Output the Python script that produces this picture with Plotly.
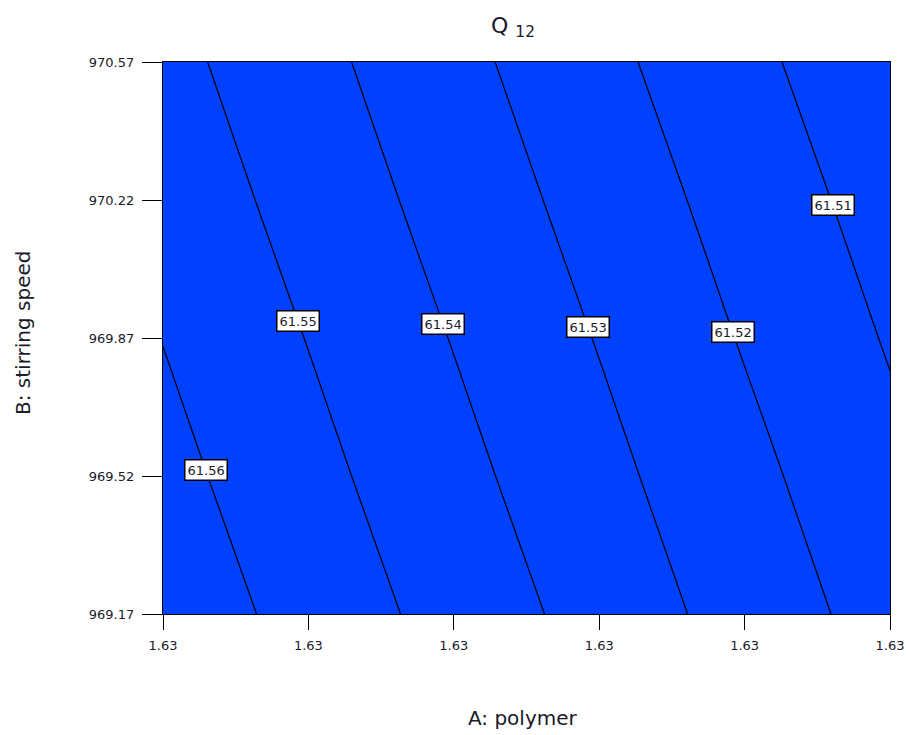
import numpy as np
import plotly.graph_objects as go

# A: polymer (grid positions, all display as 1.63)
A_vals = [1.6275, 1.6285, 1.6295, 1.6305, 1.6315, 1.6325]
A_ticktext = ["1.63", "1.63", "1.63", "1.63", "1.63", "1.63"]
# B: stirring speed
B_vals = [969.17, 969.52, 969.87, 970.22, 970.57]
B_ticktext = ["969.17", "969.52", "969.87", "970.22", "970.57"]

# Q12 response estimated at grid nodes (rows = B, cols = A)
Q12 = [
    [61.5665, 61.5564, 61.5463, 61.5362, 61.5260, 61.5159],
    [61.5631, 61.5530, 61.5429, 61.5328, 61.5227, 61.5126],
    [61.5598, 61.5497, 61.5396, 61.5295, 61.5193, 61.5092],
    [61.5564, 61.5463, 61.5362, 61.5261, 61.5160, 61.5059],
    [61.5531, 61.5430, 61.5329, 61.5227, 61.5126, 61.5025],
]

# contour levels and where along B each label sits
levels = [61.56, 61.55, 61.54, 61.53, 61.52, 61.51]
label_B = [969.535, 969.913, 969.906, 969.898, 969.885, 970.207]

blue = "#0040FF"
font_family = "DejaVu Sans, Verdana, sans-serif"
text_color = "#1a1a2a"

fig = go.Figure()
fig.add_trace(go.Contour(
    x=A_vals, y=B_vals, z=Q12,
    contours=dict(start=61.50, end=61.57, size=0.01, coloring="fill", showlabels=False),
    colorscale=[[0, blue], [1, blue]],
    line=dict(color="black", width=1.2),
    showscale=False,
    hoverinfo="skip",
))

Z = np.array(Q12)
Bv = np.array(B_vals)
Av = np.array(A_vals)
for lev, by in zip(levels, label_B):
    row = np.array([np.interp(by, Bv, Z[:, j]) for j in range(Z.shape[1])])
    ax = float(np.interp(lev, row[::-1], Av[::-1]))
    fig.add_annotation(
        x=ax, y=by, xref="x", yref="y",
        text=f"{lev:.2f}", showarrow=False,
        font=dict(family=font_family, size=13, color=text_color),
        bgcolor="white", bordercolor="black", borderwidth=1.5, borderpad=2,
    )

fig.add_annotation(
    x=(523 - 163) / 727, y=(614 - 718) / 552, xref="paper", yref="paper",
    xanchor="center", yanchor="middle",
    text="A: polymer", showarrow=False,
    font=dict(family=font_family, size=20, color=text_color),
)
fig.add_annotation(
    x=(23 - 163) / 727, y=(614 - 333) / 552, xref="paper", yref="paper",
    xanchor="center", yanchor="middle",
    text="B: stirring speed", showarrow=False, textangle=-90,
    font=dict(family=font_family, size=20, color=text_color),
)

fig.update_layout(
    width=906, height=735, autosize=False,
    margin=dict(l=163, r=16, t=62, b=121, autoexpand=False),
    paper_bgcolor="white", plot_bgcolor=blue,
    title=dict(text="Q <sub>12</sub>", x=513 / 906, xanchor="center",
               y=1 - 25 / 735, yanchor="middle",
               font=dict(family=font_family, size=22, color=text_color)),
    showlegend=False,
)
fig.update_xaxes(
    range=[A_vals[0], A_vals[-1]], tickvals=A_vals, ticktext=A_ticktext,
    ticks="outside", ticklen=15, tickwidth=1.3, tickcolor="black",
    showline=True, linecolor="black", linewidth=1.3, mirror=True,
    showgrid=False, zeroline=False, automargin=False, ticklabelstandoff=4,
    tickfont=dict(family=font_family, size=13, color=text_color),
)
fig.update_yaxes(
    range=[B_vals[0], B_vals[-1]], tickvals=B_vals, ticktext=B_ticktext,
    ticks="outside", ticklen=20, tickwidth=1.3, tickcolor="black",
    showline=True, linecolor="black", linewidth=1.3, mirror=True,
    showgrid=False, zeroline=False, automargin=False, ticklabelstandoff=5,
    tickfont=dict(family=font_family, size=13, color=text_color),
)

fig.write_html("out.html")
